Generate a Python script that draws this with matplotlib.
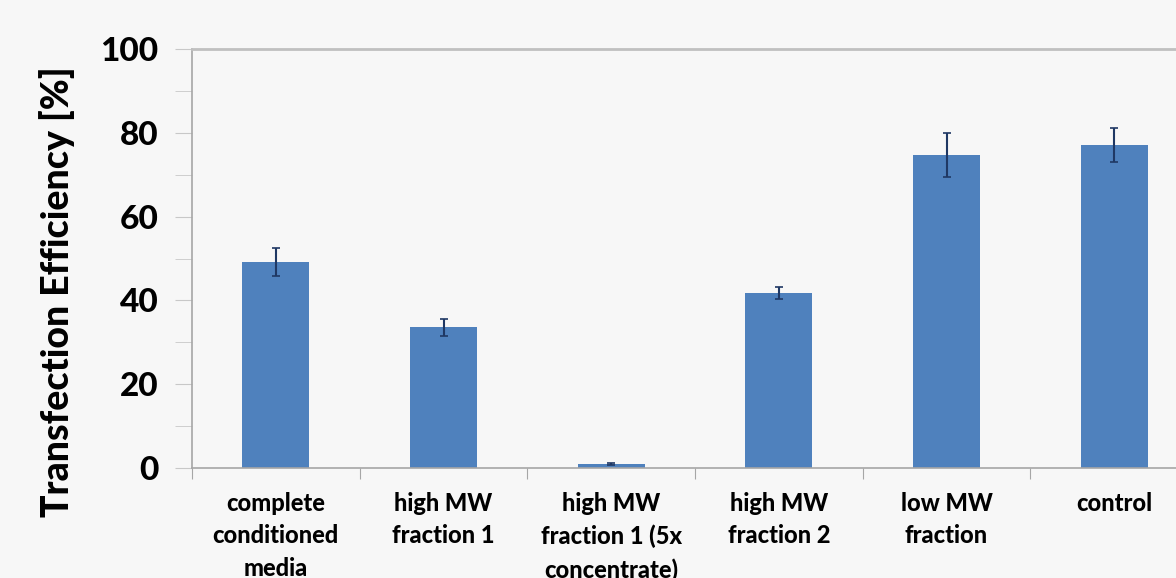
import matplotlib
matplotlib.use("Agg")
import matplotlib.pyplot as plt
from matplotlib.ticker import MultipleLocator

categories = ["complete\nconditioned\nmedia", "high MW\nfraction 1", "high MW\nfraction 1 (5x\nconcentrate)",
              "high MW\nfraction 2", "low MW\nfraction", "control"]
values = [49.2, 33.6, 0.9, 41.8, 74.7, 77.1]
errors = [3.3, 2.0, 0.3, 1.5, 5.3, 4.1]
y_ticks = [0, 20, 40, 60, 80, 100]

bg = "#f7f7f7"
fig = plt.figure(figsize=(11.76, 5.78), dpi=100, facecolor=bg)
ax = fig.add_axes([192/1176, 1-468/578, 1006/1176, 419/578])
ax.set_facecolor(bg)

x = list(range(len(categories)))
ax.bar(x, values, width=0.4, color="#4f81bd", zorder=2)
ax.errorbar(x, values, yerr=errors, fmt="none", ecolor="#1f3864", elinewidth=1.5,
            capsize=3, capthick=1.2, zorder=3)

ax.set_xlim(-0.5, 5.5)
ax.set_ylim(0, 100)
ax.set_yticks(y_ticks)
ax.yaxis.set_minor_locator(MultipleLocator(10))
ax.set_xticks([i + 0.5 for i in range(-1, 6)], minor=False)
ax.set_xticklabels([])
ax.set_xticks(x, minor=True)
ax.set_xticklabels(categories, minor=True, fontfamily="Lato", fontweight="black",
                   fontsize=17, linespacing=1.52)
ax.tick_params(axis="x", which="minor", length=0, pad=17)
ax.tick_params(axis="x", which="major", length=8, color="#a6a6a6", direction="out")
ax.tick_params(axis="y", which="both", length=12, color="#c8c8c8", direction="out")
ax.tick_params(axis="y", which="major", labelsize=24, pad=12)
for lab in ax.get_yticklabels():
    lab.set_fontfamily("Lato")
    lab.set_fontweight("black")

for s in ["left", "bottom", "top"]:
    ax.spines[s].set_color("#a6a6a6")
    ax.spines[s].set_linewidth(1.2)
ax.spines["top"].set_color("#c0c0c0")
ax.spines["top"].set_linewidth(2)
ax.spines["right"].set_visible(False)

fig.text(57/1176, 1-292/578, "Transfection Efficiency [%]", rotation=90, ha="center", va="center",
         fontfamily="Lato", fontweight="black", fontsize=27)

fig.savefig("out.png", dpi=100, facecolor=bg)
